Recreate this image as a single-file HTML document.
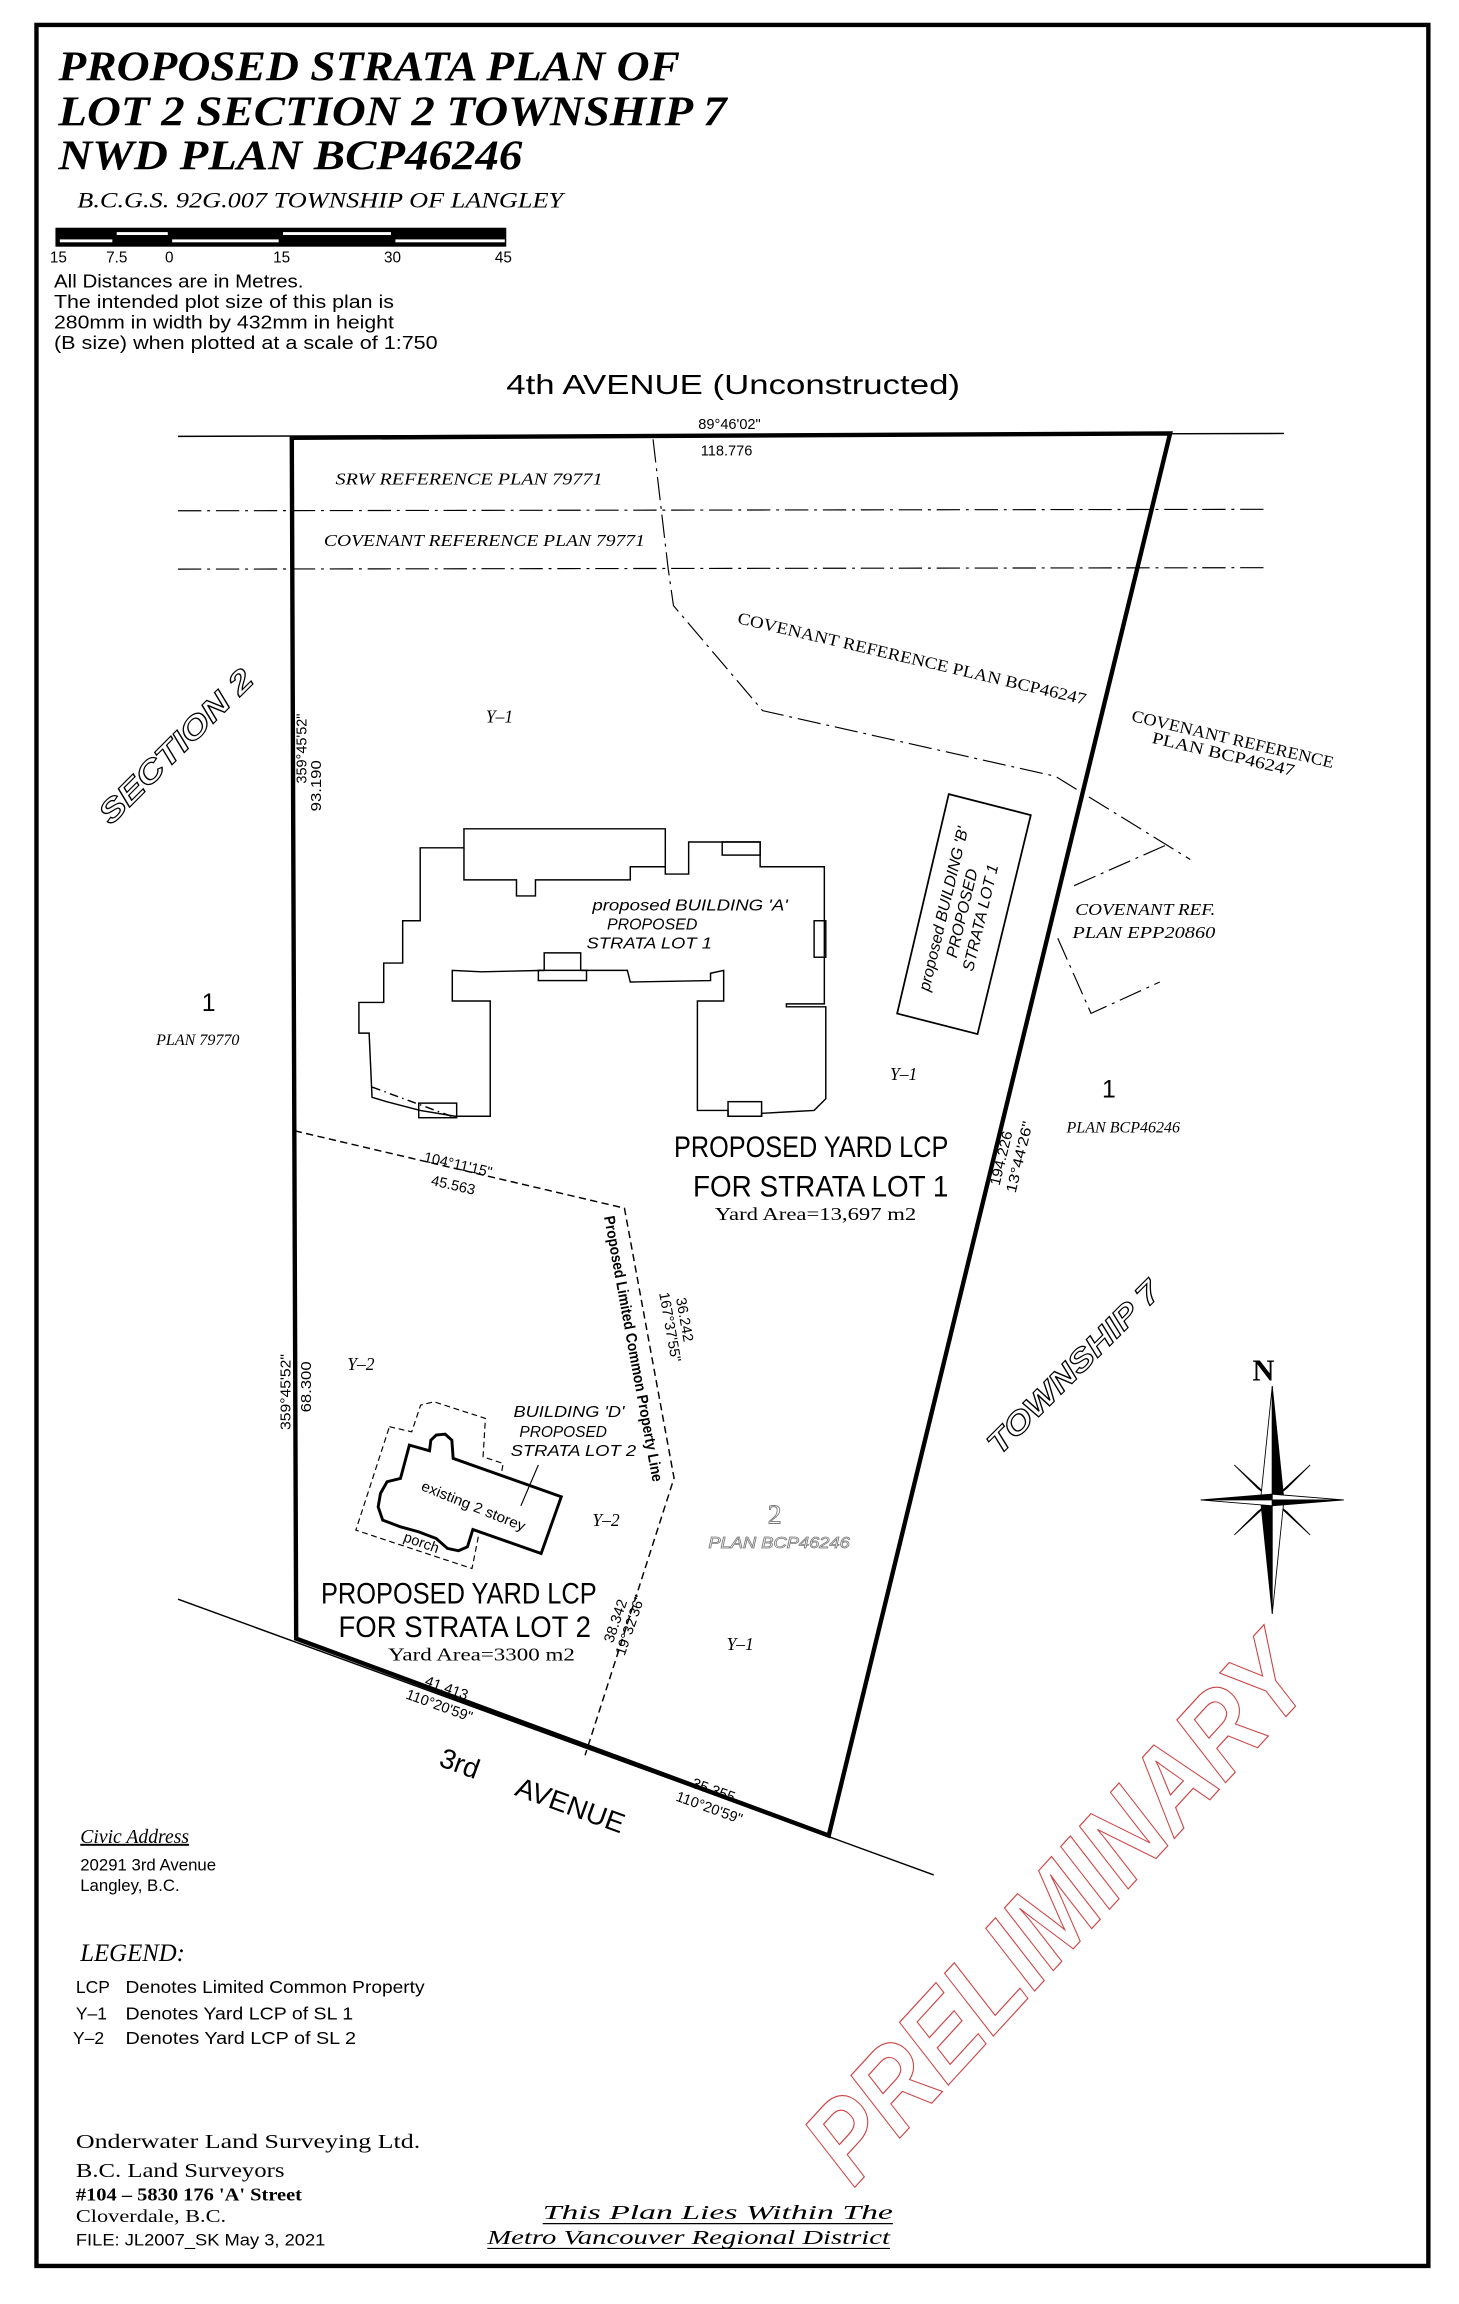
<!DOCTYPE html>
<html><head><meta charset="utf-8"><style>
html,body{margin:0;padding:0;background:#fff;}
svg{display:block;}
.s{font-family:"Liberation Sans",sans-serif;}
.r{font-family:"Liberation Serif",serif;}
</style></head><body>
<svg width="1459" height="2304" viewBox="0 0 1000 1579" xmlns="http://www.w3.org/2000/svg">
<rect x="0" y="0" width="1000" height="1579" fill="#fff"/>
<rect x="25" y="17" width="954" height="1536" fill="none" stroke="#000" stroke-width="3"/>

<!-- title -->
<g class="r" font-weight="bold" font-style="italic" font-size="29">
<text x="40" y="55" textLength="426" lengthAdjust="spacingAndGlyphs">PROPOSED STRATA PLAN OF</text>
<text x="40" y="86" textLength="458" lengthAdjust="spacingAndGlyphs">LOT 2 SECTION 2 TOWNSHIP 7</text>
<text x="40" y="116" textLength="318" lengthAdjust="spacingAndGlyphs">NWD PLAN BCP46246</text>
</g>
<text class="r" font-style="italic" x="53" y="142" font-size="15.5" textLength="333" lengthAdjust="spacingAndGlyphs">B.C.G.S. 92G.007   TOWNSHIP OF LANGLEY</text>

<!-- scale bar -->
<rect x="38" y="156" width="309" height="13" fill="#000"/>
<g fill="#fff">
<rect x="41" y="164" width="36" height="2"/><rect x="80" y="159" width="35" height="2"/>
<rect x="118" y="164" width="73" height="2"/><rect x="194" y="159" width="74" height="2"/>
<rect x="271" y="164" width="75" height="2"/>
</g>
<g class="s" font-size="10.5" text-anchor="middle">
<text x="40" y="180">15</text><text x="80" y="180">7.5</text><text x="116" y="180">0</text>
<text x="193" y="180">15</text><text x="269" y="180">30</text><text x="345" y="180">45</text>
</g>
<g class="s" font-size="12.5">
<text x="37" y="197" textLength="171" lengthAdjust="spacingAndGlyphs">All Distances are in Metres.</text>
<text x="37" y="211" textLength="233" lengthAdjust="spacingAndGlyphs">The intended plot size of this plan is</text>
<text x="37" y="225" textLength="233" lengthAdjust="spacingAndGlyphs">280mm in width by 432mm in height</text>
<text x="37" y="239" textLength="263" lengthAdjust="spacingAndGlyphs">(B size) when plotted at a scale of 1:750</text>
</g>
<text class="s" x="347" y="270" font-size="19" textLength="311" lengthAdjust="spacingAndGlyphs">4th   AVENUE (Unconstructed)</text>

<!-- roads -->
<line x1="122" y1="299" x2="880" y2="297" stroke="#000" stroke-width="1"/>
<line x1="122" y1="1096" x2="640" y2="1285" stroke="#000" stroke-width="1"/>
<!-- lot -->
<polygon points="200,300 802,297 568,1258 203,1123" fill="none" stroke="#000" stroke-width="3"/>

<!-- dash dot lines -->
<g fill="none" stroke="#000" stroke-width="0.8" stroke-dasharray="16,4,2,4">
<line x1="122" y1="350" x2="870" y2="349"/>
<line x1="122" y1="390" x2="870" y2="389"/>
<polyline points="447.6,301 458,390 461.6,415 522.7,487 723.4,532 815.8,589"/>
<polyline points="798.4,579.5 733.8,608"/>
<polyline points="725,643 747.8,694.5 794.9,673"/>
</g>
<g class="r" font-style="italic" font-size="11.5">
<text x="230" y="332" textLength="183" lengthAdjust="spacingAndGlyphs">SRW REFERENCE PLAN 79771</text>
<text x="222" y="374" textLength="220" lengthAdjust="spacingAndGlyphs">COVENANT REFERENCE PLAN 79771</text>
</g>
<g class="r" font-size="11.5">
<text x="0" y="0" transform="translate(505,427) rotate(13.2)" textLength="245" lengthAdjust="spacingAndGlyphs">COVENANT REFERENCE PLAN BCP46247</text>
<text x="0" y="0" transform="translate(775,494) rotate(13.2)" textLength="142" lengthAdjust="spacingAndGlyphs">COVENANT REFERENCE</text>
<text x="0" y="0" transform="translate(789,509) rotate(13.2)" textLength="100" lengthAdjust="spacingAndGlyphs">PLAN BCP46247</text>
</g>
<g class="r" font-style="italic" font-size="11.5">
<text x="737" y="627" textLength="96" lengthAdjust="spacingAndGlyphs">COVENANT REF.</text>
<text x="735" y="643" textLength="98" lengthAdjust="spacingAndGlyphs">PLAN EPP20860</text>
</g>
<text class="s" x="500" y="294" font-size="10" text-anchor="middle">89°46'02"</text>
<text class="s" x="498" y="312" font-size="10" text-anchor="middle">118.776</text>

<!-- section 2 -->
<text class="s" font-weight="bold" font-style="italic" font-size="21" fill="#fff" stroke="#000" stroke-width="0.8" transform="translate(76,566) rotate(-45)" textLength="140" lengthAdjust="spacingAndGlyphs">SECTION  2</text>
<text class="s" font-weight="bold" font-style="italic" font-size="21" fill="#fff" stroke="#000" stroke-width="0.8" transform="translate(685,998) rotate(-45)" textLength="158" lengthAdjust="spacingAndGlyphs">TOWNSHIP  7</text>

<g class="s" font-size="10">
<text transform="translate(210,537) rotate(-90)" textLength="48" lengthAdjust="spacingAndGlyphs">359°45'52"</text>
<text transform="translate(220,556) rotate(-90)" textLength="35" lengthAdjust="spacingAndGlyphs">93.190</text>
<text transform="translate(199,980) rotate(-90)" textLength="52" lengthAdjust="spacingAndGlyphs">359°45'52"</text>
<text transform="translate(213,968) rotate(-90)" textLength="35" lengthAdjust="spacingAndGlyphs">68.300</text>
<text transform="translate(685,813) rotate(-76.3)" textLength="38" lengthAdjust="spacingAndGlyphs">194.226</text>
<text transform="translate(696,818) rotate(-76.3)" textLength="50" lengthAdjust="spacingAndGlyphs">13°44'26"</text>
</g>

<g class="r" font-style="italic" font-size="12">
<text x="333" y="495">Y–1</text>
<text x="610" y="740">Y–1</text>
<text x="238" y="939">Y–2</text>
<text x="406" y="1046">Y–2</text>
<text x="498" y="1131">Y–1</text>
<text x="107" y="716" font-size="11">PLAN 79770</text>
<text x="731" y="776" font-size="11">PLAN BCP46246</text>
</g>
<text class="s" x="143" y="693" font-size="17" text-anchor="middle">1</text>
<text class="s" x="760" y="752" font-size="17" text-anchor="middle">1</text>

<!-- building A -->
<g fill="none" stroke="#000" stroke-width="1">
<polygon points="288,581 318,581 318,568 456,568 456,599 472,599 472,577 521,577 521,594 565,594 565,688 539,688 539,690 566,690 566,753 558,761 540,762 522,763 522,765 499,765 499,761 478,761 478,686 496,686 496,665 487,667 487,672 432,673 430,665 398,665 398,653 373,653 373,665 330,666 310,665 310,686 336,686 336,765 312,765 288,761 265,755 255,752 253,708 246,708 246,687 263,687 263,660 276,660 276,631 288,631"/>
<polyline points="318,581 318,603 354,603 354,614 367,614 367,603 432,603 432,594 456,594"/>
<rect x="495" y="577" width="26" height="9"/>
<rect x="558" y="631" width="8" height="25"/>
<rect x="287" y="756" width="26" height="10"/>
<rect x="499" y="755" width="23" height="10"/>
<rect x="369" y="665" width="33" height="7"/>
<line x1="255" y1="745" x2="312" y2="766" stroke-dasharray="6,3,1,3"/>
</g>
<g class="s" font-style="italic" font-size="11">
<text x="406" y="624" textLength="134" lengthAdjust="spacingAndGlyphs">proposed BUILDING 'A'</text>
<text x="416" y="637" textLength="62" lengthAdjust="spacingAndGlyphs">PROPOSED</text>
<text x="402" y="650" textLength="86" lengthAdjust="spacingAndGlyphs">STRATA LOT 1</text>
</g>

<!-- building B -->
<polygon points="650.3,544.2 706.5,558.6 670,708.7 614.9,694.6" fill="none" stroke="#000" stroke-width="1.2"/>
<g class="s" font-style="italic" font-size="11" text-anchor="middle" transform="translate(660,626) rotate(-76.5)">
<text x="0" y="-10">proposed BUILDING 'B'</text>
<text x="0" y="3">PROPOSED</text>
<text x="0" y="16">STRATA LOT 1</text>
</g>

<!-- yard labels -->
<g class="s" font-size="20">
<text x="462" y="793" textLength="188" lengthAdjust="spacingAndGlyphs">PROPOSED YARD LCP</text>
<text x="475" y="820" textLength="175" lengthAdjust="spacingAndGlyphs">FOR STRATA LOT 1</text>
<text x="220" y="1099" textLength="189" lengthAdjust="spacingAndGlyphs">PROPOSED YARD LCP</text>
<text x="232" y="1122" textLength="173" lengthAdjust="spacingAndGlyphs">FOR STRATA LOT 2</text>
</g>
<g class="r" font-size="12">
<text x="490" y="836" textLength="138" lengthAdjust="spacingAndGlyphs">Yard Area=13,697 m2</text>
<text x="266" y="1138" textLength="128" lengthAdjust="spacingAndGlyphs">Yard Area=3300 m2</text>
</g>

<!-- LCP dashed line -->
<polyline points="202,775 428,828 462,1013 401,1203" fill="none" stroke="#000" stroke-width="1" stroke-dasharray="5,3"/>
<g class="s" font-size="10">
<text transform="translate(290,796) rotate(13)">104°11'15"</text>
<text transform="translate(295,812) rotate(13)">45.563</text>
<text transform="translate(466,905) rotate(80)" text-anchor="middle">36.242</text>
<text transform="translate(456,910) rotate(80)" text-anchor="middle">167°37'55"</text>
<text transform="translate(425,1112) rotate(-71)" text-anchor="middle">38.342</text>
<text transform="translate(435,1115) rotate(-71)" text-anchor="middle">19°32'36"</text>
<text transform="translate(305,1160) rotate(20)" text-anchor="middle">41.413</text>
<text transform="translate(300,1172) rotate(20)" text-anchor="middle">110°20'59"</text>
<text transform="translate(488,1230) rotate(20)" text-anchor="middle">35.355</text>
<text transform="translate(485,1242) rotate(20)" text-anchor="middle">110°20'59"</text>
</g>
<text class="s" font-weight="bold" font-size="10.5" transform="translate(414,834) rotate(79.6)" textLength="185" lengthAdjust="spacingAndGlyphs">Proposed Limited Common Property Line</text>

<!-- building D -->
<polygon points="266.9,977.8 282.2,981.3 288.3,963 297.5,960.7 332.7,972.1 331.1,998.4 344.9,1003 343.4,1011 328.1,1052 323.5,1075 243.9,1048.7" fill="none" stroke="#000" stroke-width="0.8" stroke-dasharray="4,2.5"/>
<polygon points="280.6,990.4 294.4,994.3 295.3,987 299,983.5 305.1,982.9 309.7,987 310.6,999.5 384.7,1025.8 370.9,1064.7 324.1,1048.2 320.4,1060.1 314.3,1062.8 306.7,1061.2 299,1054.4 286.8,1049.8 274.5,1046.4 262.3,1041.8 259.2,1032.7 260.8,1023.5 265.3,1015.5 274.5,1013.2" fill="#fff" stroke="#000" stroke-width="2"/>
<g class="s" font-style="italic" font-size="11">
<text x="352" y="971" textLength="76" lengthAdjust="spacingAndGlyphs">BUILDING 'D'</text>
<text x="356" y="985" textLength="60" lengthAdjust="spacingAndGlyphs">PROPOSED</text>
<text x="350" y="998" textLength="86" lengthAdjust="spacingAndGlyphs">STRATA LOT 2</text>
</g>
<line x1="369" y1="1004" x2="357" y2="1032" stroke="#000" stroke-width="0.8"/>
<text class="s" font-size="10" transform="translate(288,1021) rotate(22)" textLength="76" lengthAdjust="spacingAndGlyphs">existing 2 storey</text>
<text class="s" font-size="10" transform="translate(276,1056) rotate(20)">porch</text>

<text class="r" x="531" y="1044" font-size="19" text-anchor="middle" fill="#fff" stroke="#777" stroke-width="0.6">2</text>
<text class="s" font-style="italic" x="534" y="1061" font-size="10.5" text-anchor="middle" fill="#fff" stroke="#777" stroke-width="0.5" textLength="97" lengthAdjust="spacingAndGlyphs">PLAN BCP46246</text>

<!-- 3rd Avenue -->
<text class="s" font-size="19" transform="translate(300,1210) rotate(20)">3rd</text>
<text class="s" font-size="19" transform="translate(352,1230) rotate(20)" textLength="78" lengthAdjust="spacingAndGlyphs">AVENUE</text>

<!-- north arrow -->
<text class="r" x="866" y="946" font-size="21" font-weight="bold" text-anchor="middle">N</text>
<g stroke="#000" stroke-width="0.6" stroke-linejoin="miter">
<polygon points="846,1004 872,1028 862,1020" fill="#000"/>
<polygon points="898,1004 872,1028 882,1020" fill="#000"/>
<polygon points="846,1052 872,1028 862,1036" fill="#000"/>
<polygon points="898,1052 872,1028 882,1036" fill="#000"/>
<polygon points="872,950 864,1028 872,1028" fill="#fff"/>
<polygon points="872,950 880,1028 872,1028" fill="#000"/>
<polygon points="872,1106 864,1028 872,1028" fill="#000"/>
<polygon points="872,1106 880,1028 872,1028" fill="#fff"/>
<polygon points="823,1028 872,1024 872,1028" fill="#000"/>
<polygon points="823,1028 872,1032 872,1028" fill="#fff"/>
<polygon points="921,1028 872,1024 872,1028" fill="#fff"/>
<polygon points="921,1028 872,1032 872,1028" fill="#000"/>
</g>

<!-- PRELIMINARY -->
<text class="s" font-weight="bold" font-style="italic" font-size="78" fill="none" stroke="#c44" stroke-width="0.8" transform="translate(585,1500) rotate(-47.5)" textLength="470" lengthAdjust="spacingAndGlyphs">PRELIMINARY</text>

<!-- bottom left -->
<text class="r" font-style="italic" x="55" y="1263" font-size="13.5" text-decoration="underline">Civic Address</text>
<g class="s" font-size="11.5">
<text x="55" y="1282">20291 3rd Avenue</text>
<text x="55" y="1296">Langley, B.C.</text>
</g>
<text class="r" font-style="italic" x="55" y="1344" font-size="17">LEGEND:</text>
<g class="s" font-size="12">
<text x="52" y="1366">LCP</text><text x="86" y="1366" textLength="205" lengthAdjust="spacingAndGlyphs">Denotes Limited Common Property</text>
<text x="52" y="1384">Y–1</text><text x="86" y="1384" textLength="156" lengthAdjust="spacingAndGlyphs">Denotes Yard LCP of SL 1</text>
<text x="50" y="1401">Y–2</text><text x="86" y="1401" textLength="158" lengthAdjust="spacingAndGlyphs">Denotes Yard LCP of SL 2</text>
</g>
<text class="r" x="52" y="1472" font-size="14" textLength="236" lengthAdjust="spacingAndGlyphs">Onderwater Land Surveying Ltd.</text>
<text class="r" x="52" y="1492" font-size="14" textLength="143" lengthAdjust="spacingAndGlyphs">B.C. Land Surveyors</text>
<text class="r" x="52" y="1508" font-size="12" font-weight="bold" textLength="155" lengthAdjust="spacingAndGlyphs">#104 – 5830 176 'A' Street</text>
<text class="r" x="52" y="1523" font-size="12" textLength="103" lengthAdjust="spacingAndGlyphs">Cloverdale, B.C.</text>
<text class="s" x="52" y="1539" font-size="11.5" textLength="171" lengthAdjust="spacingAndGlyphs">FILE: JL2007_SK  May 3, 2021</text>
<text class="r" font-style="italic" x="372" y="1521" font-size="14" textLength="240" lengthAdjust="spacingAndGlyphs">This Plan Lies Within The</text>
<line x1="372" y1="1524" x2="612" y2="1524" stroke="#000" stroke-width="0.8"/>
<text class="r" font-style="italic" x="334" y="1538" font-size="14" textLength="276" lengthAdjust="spacingAndGlyphs">Metro Vancouver Regional District</text>
<line x1="334" y1="1541" x2="610" y2="1541" stroke="#000" stroke-width="0.8"/>
</svg>
</body></html>
